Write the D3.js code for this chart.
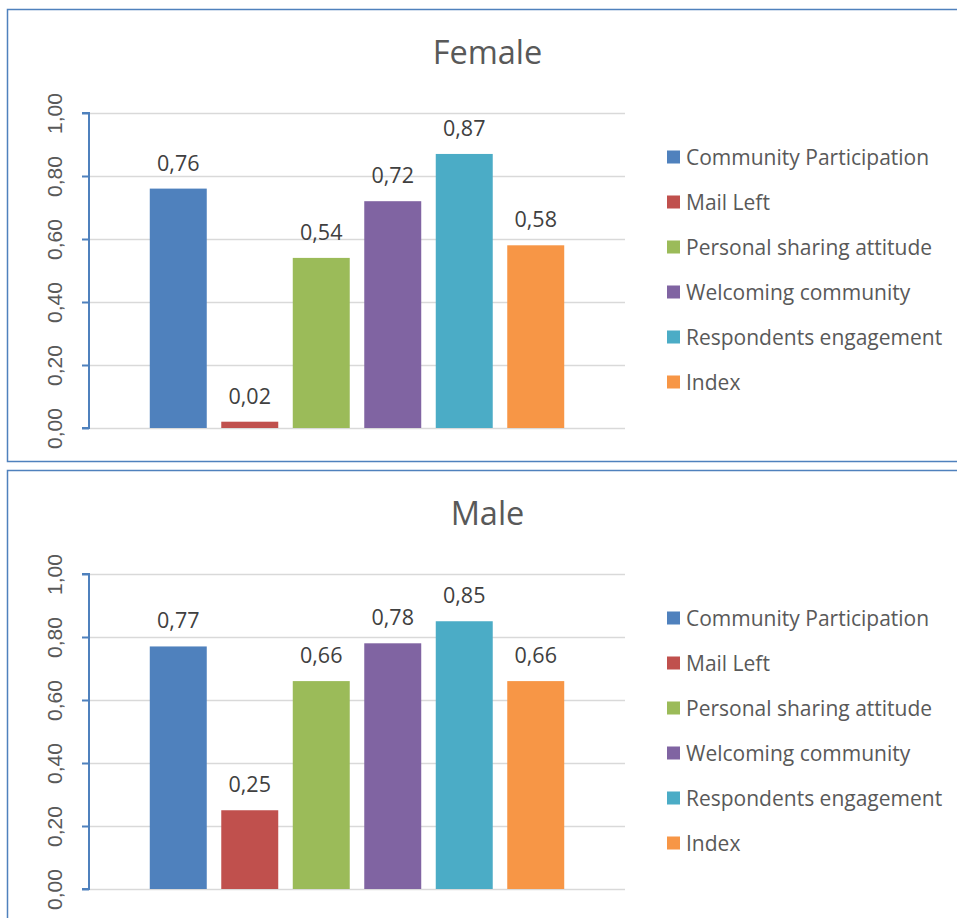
<!DOCTYPE html>
<html>
<head>
<meta charset="utf-8">
<script src="https://cdn.jsdelivr.net/npm/d3@7"></script>
<style>
  html, body { margin: 0; padding: 0; background: #fff; }
  svg { display: block; }
</style>
</head>
<body>
<svg id="chart" width="957" height="918"></svg>
<script>
const series = ["Community Participation", "Mail Left", "Personal sharing attitude", "Welcoming community", "Respondents engagement", "Index"];
const colors = ["#4F81BD", "#C0504D", "#9BBB59", "#8064A2", "#4BACC6", "#F79646"];
const panelTitles = ["Female", "Male"];
const femaleValues = [0.76, 0.02, 0.54, 0.72, 0.87, 0.58];
const maleValues = [0.77, 0.25, 0.66, 0.78, 0.85, 0.66];
const yTicks = [0, 0.2, 0.4, 0.6, 0.8, 1.0];

const svg = d3.select("#chart");
const textColor = "#595959";
const font = "'Open Sans', sans-serif";
const fmt = v => d3.format(".2f")(v).replace(".", ",");

function drawPanel(title, values, top) {
  const g = svg.append("g").attr("transform", `translate(0,${top})`);
  g.append("rect")
    .attr("x", 7.5).attr("y", 0.5)
    .attr("width", 1000).attr("height", 452)
    .attr("fill", "#fff")
    .attr("stroke", "#4F81BD").attr("stroke-width", 1.5);

  const plotLeft = 89, plotRight = 625, plotTop = 104, plotBottom = 419;
  const y = d3.scaleLinear().domain([0, 1]).range([plotBottom, plotTop]);
  const x = d3.scaleBand().domain(series).range([plotLeft, plotRight])
    .paddingInner(0.203).paddingOuter(0.85);

  g.append("text")
    .attr("x", 487.5).attr("y", 55)
    .attr("text-anchor", "middle")
    .attr("font-family", font)
    .attr("font-size", 32.5)
    .attr("fill", textColor)
    .text(title);

  const grid = g.append("g")
    .attr("transform", `translate(${plotLeft},0)`)
    .call(d3.axisLeft(y).tickValues(yTicks).tickSize(-(plotRight - plotLeft)).tickFormat(""));
  grid.select(".domain").remove();
  grid.selectAll("line").attr("stroke", "#D9D9D9").attr("stroke-width", 1.5);

  g.selectAll("rect.bar").data(values).enter().append("rect")
    .attr("class", "bar")
    .attr("x", (d, i) => x(series[i]))
    .attr("width", x.bandwidth())
    .attr("y", d => y(d))
    .attr("height", d => plotBottom - y(d))
    .attr("fill", (d, i) => colors[i]);

  g.selectAll("text.dl").data(values).enter().append("text")
    .attr("class", "dl")
    .attr("x", (d, i) => x(series[i]) + x.bandwidth() / 2)
    .attr("y", d => y(d) - 18)
    .attr("text-anchor", "middle")
    .attr("font-family", font)
    .attr("font-size", 21.5)
    .attr("fill", "#404040")
    .text(d => fmt(d));

  const ax = g.append("g")
    .attr("transform", `translate(${plotLeft},0)`)
    .call(d3.axisLeft(y).tickValues(yTicks).tickSize(7).tickFormat(fmt));
  ax.select(".domain").attr("stroke", "#4F81BD").attr("stroke-width", 2)
    .attr("d", `M-7,${plotTop}H0V${plotBottom}H-7`);
  ax.selectAll(".tick line").attr("stroke", "#4F81BD").attr("stroke-width", 2);
  ax.selectAll(".tick text")
    .attr("x", null).attr("dy", null)
    .attr("transform", "translate(-27,0) rotate(-90)")
    .attr("text-anchor", "middle")
    .attr("font-family", "'Liberation Sans', Arial, sans-serif")
    .attr("font-size", 21)
    .attr("fill", textColor);

  const leg = g.selectAll("g.leg").data(series).enter().append("g")
    .attr("class", "leg")
    .attr("transform", (d, i) => `translate(667,${148 + i * 45})`);
  leg.append("rect")
    .attr("x", 0).attr("y", -6.5).attr("width", 13).attr("height", 13)
    .attr("fill", (d, i) => colors[i]);
  leg.append("text")
    .attr("x", 19).attr("y", 7.5)
    .attr("font-family", font)
    .attr("font-size", 21)
    .attr("fill", textColor)
    .text(d => d);
}

drawPanel(panelTitles[0], femaleValues, 9);
drawPanel(panelTitles[1], maleValues, 470);
</script>
</body>
</html>
